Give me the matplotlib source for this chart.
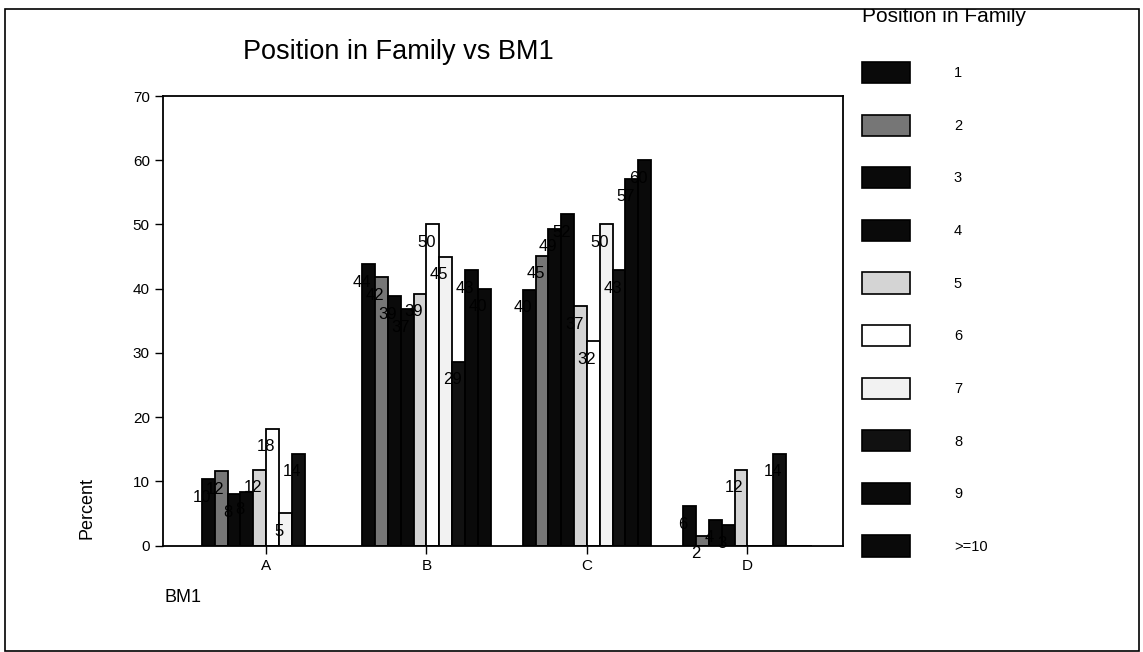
import matplotlib.pyplot as plt
import numpy as np
from matplotlib.patches import Patch, Rectangle

plt.rcParams['font.family'] = ['Liberation Sans', 'DejaVu Sans']

W, H = 1143, 652

# BM1 categories on the x axis, one bar per family position in each
categories = ['A', 'B', 'C', 'D']
positions = ['1', '2', '3', '4', '5', '6', '7', '8', '9', '>=10']

# percent of each family position falling in each BM1 category
pct_a = [10.3, 11.6, 8.0, 8.4, 11.8, 18.2, 5.0, 14.3, 0, 0]
pct_b = [43.8, 41.8, 38.8, 36.8, 39.2, 50.0, 45.0, 28.6, 42.9, 40.0]
pct_c = [39.8, 45.1, 49.3, 51.6, 37.3, 31.8, 50.0, 42.9, 57.1, 60.0]
pct_d = [6.1, 1.5, 4.0, 3.2, 11.8, 0, 0, 14.3, 0, 0]

fills = ['#0a0a0a', '#767676', '#0a0a0a', '#0a0a0a', '#d4d4d4',
         '#ffffff', '#f2f2f2', '#111111', '#0a0a0a', '#0a0a0a']

pct = np.array([pct_a, pct_b, pct_c, pct_d])

fig = plt.figure(figsize=(W / 100, H / 100), dpi=100)
ax = fig.add_axes([163 / W, (H - 545.5) / H, (843 - 163) / W, (545.5 - 96) / H])

x = np.arange(len(categories))
width = 0.08
for k in range(len(positions)):
    lefts = x - 0.4 + k * width
    ax.bar(lefts, pct[:, k], width, align='edge', color=fills[k],
           edgecolor='black', linewidth=1.3, zorder=2)
    for xl, v in zip(lefts, pct[:, k]):
        if v > 0:
            ax.annotate(f'{v:.0f}', (xl, v), xytext=(0, -13),
                        textcoords='offset points', ha='center', va='center',
                        fontsize=12, color='black', zorder=4)

ax.set_xlim(-0.642, 3.596)
ax.set_ylim(0, 70)
ax.set_yticks(np.arange(0, 71, 10))
ax.set_xticks(x)
ax.set_xticklabels(categories)
ax.tick_params(axis='both', labelsize=11, length=6, width=1, direction='out')
for s in ax.spines.values():
    s.set_linewidth(1.3)

fig.text(398 / W, 1 - 52 / H, 'Position in Family vs BM1', fontsize=19.5,
         ha='center', va='center')
fig.text(87 / W, 1 - 508 / H, 'Percent', fontsize=13, rotation=90,
         ha='center', va='center')
fig.text(165 / W, 1 - 597 / H, 'BM1', fontsize=13, ha='left', va='center')

handles = [Patch(facecolor=c, edgecolor='black', linewidth=1.2) for c in fills]
fig.legend(handles, positions, loc='upper left',
           bbox_to_anchor=(862 / W, 1 - 62 / H), frameon=False,
           fontsize=10.5, handlelength=3.3, handleheight=1.85,
           labelspacing=2.16, handletextpad=3.0, borderpad=0,
           borderaxespad=0)

# legend heading, its top cut by the outer frame
fig.text(862 / W, 1 - 22 / H, 'Position in Family', fontsize=15,
         ha='left', va='baseline', zorder=3)
fig.patches.append(Rectangle((0, 1 - 9 / H), 1, 9 / H, transform=fig.transFigure,
                             facecolor='white', edgecolor='none', zorder=8))
fig.patches.append(Rectangle((4.5 / W, 1 / H), (1139 - 4.5) / W, (H - 10) / H,
                             transform=fig.transFigure, facecolor='none',
                             edgecolor='black', linewidth=1.2, zorder=9))

fig.savefig('out.png', dpi=100)
